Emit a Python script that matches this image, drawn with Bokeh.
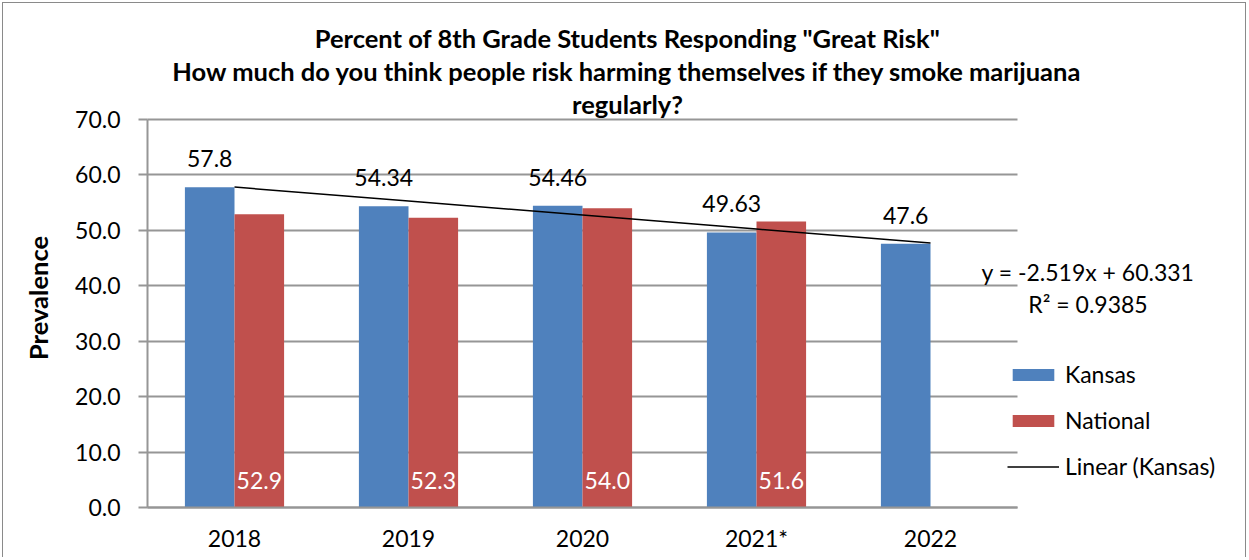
import numpy as np
from bokeh.plotting import figure
from bokeh.models import (ColumnDataSource, Label, LabelSet, Legend, LegendItem,
                          FixedTicker, Range1d, PrintfTickFormatter)
from bokeh.core.properties import value
from bokeh.embed import file_html
from bokeh.resources import INLINE

# ---------------- data ----------------
years = ["2018", "2019", "2020", "2021*", "2022"]
kansas = [57.8, 54.34, 54.46, 49.63, 47.6]
kansas_labels = ["57.8", "54.34", "54.46", "49.63", "47.6"]
national = [52.9, 52.3, 54.0, 51.6]
national_labels = ["52.9", "52.3", "54.0", "51.6"]
trend_slope = -2.519
trend_intercept = 60.331
r_squared = 0.9385
y_ticks = [0, 10, 20, 30, 40, 50, 60, 70]
title_lines = ['Percent of 8th Grade Students Responding "Great Risk"',
               "How much do you think people risk harming themselves if they smoke marijuana",
               "regularly?"]

FONT = "Lato"
BLUE = "#4F81BD"
RED = "#C0504D"
GRID = "#969696"

# ---------------- geometry (pixels) ----------------
W, H = 1244, 555            # canvas size; canvas placed at page (3, 3) (2px margin + 1px border)
OX, OY = 3, 3
PX_LEFT, PX_UNIT_X = 147, 174.0     # page x of x=0.5, px per category
PX_Y0, PX_Y70 = 507.3, 119.0
PX_UNIT_Y = (PX_Y0 - PX_Y70) / 70.0


def dx(px):  # page px -> x data
    return 0.5 + (px - PX_LEFT) / PX_UNIT_X


def dy(py):  # page py -> y data
    return (PX_Y0 - py) / PX_UNIT_Y


idx = np.arange(1, len(years) + 1)
off = 0.1425
bw = 0.285

k_src = ColumnDataSource(dict(x=idx - off, top=kansas, lab=kansas_labels))
n_src = ColumnDataSource(dict(x=idx[:len(national)] + off, top=national, lab=national_labels,
                              y0=[0] * len(national)))
trend_y = [trend_slope * i + trend_intercept for i in idx]
t_src = ColumnDataSource(dict(x=idx, y=trend_y))

p = figure(width=W, height=H, min_border=0, title=None,
           x_range=Range1d(dx(OX), dx(OX + W)), y_range=Range1d(dy(OY + H), dy(OY)),
           output_backend="svg", toolbar_location=None, margin=(2, 0, 0, 2),
           styles={"border-left": "1px solid #8a8a8a", "border-top": "1px solid #8a8a8a",
                   "border-right": "1px solid #8a8a8a"})
p.outline_line_color = None
p.background_fill_color = "white"
p.border_fill_color = "white"

kb = p.vbar(x="x", top="top", width=bw, source=k_src, fill_color=BLUE, line_color=None)
nb = p.vbar(x="x", top="top", width=bw, source=n_src, fill_color=RED, line_color=None)
tl = p.line(x="x", y="y", source=t_src, line_color="black", line_width=1.5)

# axes (fixed inside the frame)
p.xgrid.grid_line_color = None
p.ygrid.grid_line_color = GRID
p.ygrid.grid_line_width = 2
p.ygrid.cross_bounds = (0.5, 5.5)
p.ygrid.bounds = (0, 70)

yax = p.yaxis[0]
yax.fixed_location = 0.5
yax.bounds = (0, 70)
yax.ticker = FixedTicker(ticks=y_ticks)
yax.formatter = PrintfTickFormatter(format="%.1f")
yax.major_tick_out = 9
yax.major_tick_in = 0
yax.minor_tick_line_color = None
yax.axis_line_color = GRID
yax.axis_line_width = 2
yax.major_tick_line_color = GRID
yax.major_tick_line_width = 2
yax.major_label_standoff = 18
yax.major_label_text_font = FONT
yax.major_label_text_font_size = "23px"
yax.major_label_text_color = "black"

xax = p.xaxis[0]
xax.fixed_location = 0
xax.bounds = (0.5, 5.5)
xax.ticker = FixedTicker(ticks=list(idx))
xax.major_label_overrides = {int(i): y for i, y in zip(idx, years)}
xax.major_tick_out = 0
xax.major_tick_in = 0
xax.minor_tick_line_color = None
xax.axis_line_color = GRID
xax.axis_line_width = 2
xax.major_label_standoff = 16
xax.major_label_text_font = FONT
xax.major_label_text_font_size = "23px"
xax.major_label_text_color = "black"

# data labels
p.add_layout(LabelSet(x="x", y="top", text="lab", source=k_src, y_offset=20,
                      text_align="center", text_baseline="alphabetic",
                      text_font=value(FONT), text_font_size="23px", text_color="black"))
p.add_layout(LabelSet(x="x", y="y0", text="lab", source=n_src, y_offset=19,
                      text_align="center", text_baseline="alphabetic",
                      text_font=value(FONT), text_font_size="23px", text_color="white"))

# title (anchored at visual centre of each line)
title_centers = [37.0, 70.0, 103.0]
for txt, yc in zip(title_lines, title_centers):
    p.add_layout(Label(x=dx(627), y=dy(yc), text=txt, text_align="center",
                       text_baseline="middle", text_font=FONT, text_font_style="bold",
                       text_font_size="25.5px", text_color="black"))

# y axis title
p.add_layout(Label(x=dx(37.5), y=dy(297.5), text="Prevalence", angle=np.pi / 2,
                   text_align="center", text_baseline="middle", text_font=FONT,
                   text_font_style="bold", text_font_size="25.5px", text_color="black"))

# trendline equation
p.add_layout(Label(x=dx(1087.5), y=dy(271), text="y = %.3fx + %.3f" % (trend_slope, trend_intercept),
                   text_align="center", text_baseline="middle", text_font=FONT,
                   text_font_size="23px", text_color="black"))
p.add_layout(Label(x=dx(1087.5), y=dy(303.5), text="R² = %.4f" % r_squared,
                   text_align="center", text_baseline="middle", text_font=FONT,
                   text_font_size="23px", text_color="black"))

legend = Legend(items=[LegendItem(label="Kansas", renderers=[kb]),
                       LegendItem(label="National", renderers=[nb]),
                       LegendItem(label="Linear (Kansas)", renderers=[tl])],
                location=(1007 - OX, OY + H - 480), glyph_width=52, glyph_height=15,
                label_standoff=6, spacing=18, padding=0, margin=0, border_line_color=None,
                background_fill_alpha=0, label_text_font=FONT, label_text_font_size="23px",
                label_text_color="black")
p.add_layout(legend)

open("out.html", "w").write(file_html(p, INLINE))
